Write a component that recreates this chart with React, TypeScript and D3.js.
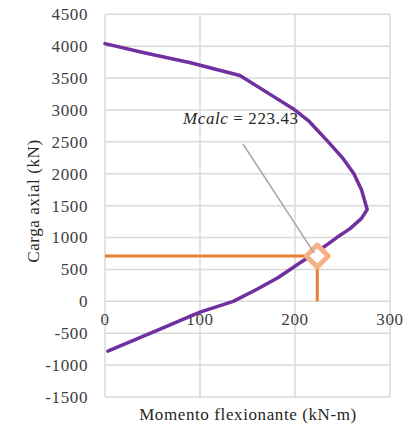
import React from "react";
import * as d3 from "d3";

const curveM = [0, 40, 90, 142, 170, 198, 215, 235, 250, 262, 270, 276, 270, 258, 244, 233, 205, 182, 160, 135, 100, 58, 3];
const curveP = [4040, 3900, 3740, 3540, 3280, 3020, 2820, 2500, 2250, 2000, 1750, 1440, 1300, 1140, 1000, 880, 600, 370, 190, 0, -170, -435, -780];
const Mcalc = 223.43;
const Pu = 710;
const xTicks = [0, 100, 200, 300];
const yTicks = [-1500, -1000, -500, 0, 500, 1000, 1500, 2000, 2500, 3000, 3500, 4000, 4500];

export default function App() {
  const W = 407, H = 427;
  const x = d3.scaleLinear().domain([0, 300]).range([105, 390]);
  const y = d3.scaleLinear().domain([-1500, 4500]).range([397, 14.3]);
  const pts = curveM.map((m, i) => [m, curveP[i]] as [number, number]);
  const line = d3.line<[number, number]>().x(d => x(d[0])).y(d => y(d[1]));
  const font = "'Liberation Serif', 'Times New Roman', serif";
  const ts = { fontFamily: font, letterSpacing: "0.6px" };
  const mx = x(Mcalc), my = y(Pu);
  const ds = 11;
  return (
    <svg width={W} height={H} style={{ position: "absolute", left: 0, top: 0, fontFamily: font }}>
      <rect width={W} height={H} fill="#fff" />
      {xTicks.map(t => (
        <line key={"gx" + t} x1={x(t)} x2={x(t)} y1={y(4500)} y2={y(-1500)} stroke="#D9D9D9" strokeWidth={1.5} />
      ))}
      {yTicks.map(t => (
        <line key={"gy" + t} x1={x(0)} x2={x(300)} y1={y(t)} y2={y(t)} stroke="#D9D9D9" strokeWidth={1.5} />
      ))}
      {yTicks.map(t => (
        <text key={"ty" + t} x={88} y={y(t)} dy="0.35em" textAnchor="end" fontSize={17} fill="#404040" style={ts}>{t}</text>
      ))}
      {xTicks.map(t => (
        <text key={"tx" + t} x={x(t)} y={y(0)} dy="1.4em" textAnchor="middle" fontSize={17} fill="#404040" style={ts}>{t}</text>
      ))}
      <path d={line(pts) || ""} fill="none" stroke="#7030A0" strokeWidth={3.5} strokeLinejoin="round" strokeLinecap="round" />
      <line x1={x(0)} x2={mx} y1={my} y2={my} stroke="#ED7D31" strokeWidth={3} />
      <line x1={mx} x2={mx} y1={y(0)} y2={my} stroke="#ED7D31" strokeWidth={3} />
      <path d={`M${mx},${my - ds} L${mx + ds},${my} L${mx},${my + ds} L${mx - ds},${my} Z`} fill="#fff" stroke="#F4B183" strokeWidth={5} strokeLinejoin="round" />
      <line x1={243} y1={144} x2={mx - 3} y2={my - 3} stroke="#A6A6A6" strokeWidth={1.5} />
      <text x={183} y={124} fontSize={17} fill="#262626" style={ts}>
        <tspan fontStyle="italic">Mcalc</tspan> = 223.43
      </text>
      <text x={248} y={420} textAnchor="middle" fontSize={17} fill="#262626" style={ts}>Momento flexionante  (kN-m)</text>
      <text transform={`translate(33,201) rotate(-90)`} textAnchor="middle" dy="0.35em" fontSize={17} fill="#262626" style={ts}>Carga axial  (kN)</text>
    </svg>
  );
}
